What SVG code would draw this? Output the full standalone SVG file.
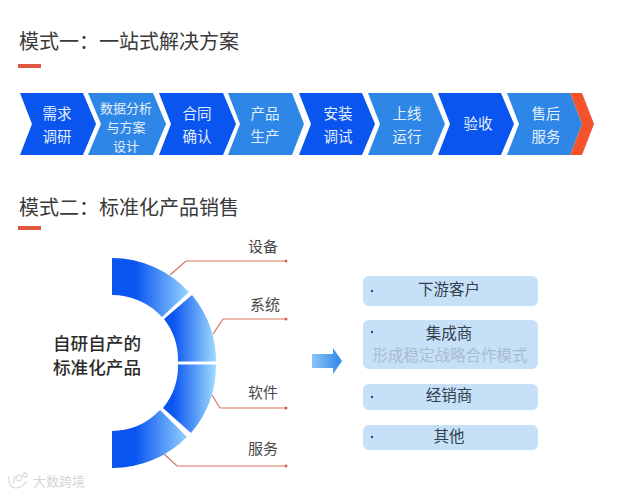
<svg xmlns="http://www.w3.org/2000/svg" width="639" height="495" viewBox="0 0 639 495">
<style>
text{font-family:"Noto Sans CJK SC","Liberation Sans",sans-serif}
.t{font-size:20px;fill:#3a3a3a}
.c{font-size:14.5px;fill:#e4effc;text-anchor:middle}
.s{font-size:13px}
.d{fill:#0a55f0}.l{fill:#2e86e6}
.bar{fill:#e2583e}
.ln{fill:none;stroke:#d9705f;stroke-width:1.2}
.dot{fill:#d9604f}
.lb{font-size:15px;fill:#4a4a4a;text-anchor:middle}
.box{fill:#c6e0f8}
.bt{font-size:15.500px;fill:#33404d;text-anchor:middle}
.bu{fill:#1f4f80}
.ctr{font-size:17.600px;fill:#2b2b2b;text-anchor:middle;font-weight:500}
</style>
<defs>
<linearGradient id="g1" gradientUnits="userSpaceOnUse" x1="112" y1="0" x2="190" y2="0"><stop offset="0.3" stop-color="#0a55f0"/><stop offset="1" stop-color="#98d8ff"/></linearGradient>
<linearGradient id="g2" gradientUnits="userSpaceOnUse" x1="162" y1="0" x2="217" y2="0"><stop offset="0.2" stop-color="#0a55f0"/><stop offset="1" stop-color="#a4deff"/></linearGradient>
<linearGradient id="ga" x1="0" y1="0" x2="1" y2="0"><stop offset="0" stop-color="#8cc4f4"/><stop offset="1" stop-color="#2e86e6"/></linearGradient>
</defs>
<rect width="639" height="495" fill="#fff"/>
<g id="title1"><text class="t" x="19" y="49">模式一&#xFF1A;一站式解决方案</text><rect class="bar" x="18" y="64" width="23" height="4"/></g>
<g id="title2"><text class="t" x="19" y="215">模式二&#xFF1A;标准化产品销售</text><rect class="bar" x="18" y="226" width="23" height="4"/></g>

<g id="step-orange"><path d="M570 93H582L594 124L582 155H570L582 124Z" fill="#f4522c"/></g>
<g id="step1"><path class="d" d="M20 93H83L96 124L83 155H20L32 124Z"/><text class="c" x="57" y="119">需求</text><text class="c" x="57" y="142">调研</text></g>
<g id="step2"><path class="l" d="M88 93H153L166 124L153 155H88L101 124Z"/><text class="c s" x="126" y="113">数据分析</text><text class="c s" x="126" y="132">与方案</text><text class="c s" x="126" y="151">设计</text></g>
<g id="step3"><path class="d" d="M159 93H223L236 124L223 155H159L171 124Z"/><text class="c" x="197" y="119">合同</text><text class="c" x="197" y="142">确认</text></g>
<g id="step4"><path class="l" d="M228 93H292L304 124L292 155H228L240 124Z"/><text class="c" x="265" y="119">产品</text><text class="c" x="265" y="142">生产</text></g>
<g id="step5"><path class="d" d="M299 93H362L375 124L362 155H299L311 124Z"/><text class="c" x="338" y="119">安装</text><text class="c" x="338" y="142">调试</text></g>
<g id="step6"><path class="l" d="M368 93H432L445 124L432 155H368L380 124Z"/><text class="c" x="407" y="119">上线</text><text class="c" x="407" y="142">运行</text></g>
<g id="step7"><path class="d" d="M438 93H501L514 124L501 155H438L450 124Z"/><text class="c" x="478" y="129">验收</text></g>
<g id="step8"><path class="l" d="M507 93H570L582 124L570 155H507L519 124Z"/><text class="c" x="546" y="119">售后</text><text class="c" x="546" y="142">服务</text></g>

<g id="connectors">
<path class="ln" d="M170 275L186 261H286"/><circle class="dot" cx="286" cy="261" r="1.5"/>
<path class="ln" d="M213 334L223 319H286"/><circle class="dot" cx="286" cy="319" r="1.5"/>
<path class="ln" d="M212 395L220 408H286"/><circle class="dot" cx="286" cy="408" r="1.5"/>
<path class="ln" d="M163 453L177 466H286"/><circle class="dot" cx="286" cy="466" r="1.5"/>
</g>

<g id="arc1"><path d="M112 258A105 105 0 0 1 189 292L162 317A68 68 0 0 0 112 295Z" fill="url(#g1)"/></g>
<g id="arc2"><path d="M192 295A105 105 0 0 1 216 361.500L178 361.500A67 67 0 0 0 164 319Z" fill="url(#g2)"/></g>
<g id="arc3"><path d="M216 364.500A105 105 0 0 1 191 433L163 408A67 67 0 0 0 178 364.500Z" fill="url(#g2)"/></g>
<g id="arc4"><path d="M112 468A105 105 0 0 0 187 437L160 410A68 68 0 0 1 112 431Z" fill="url(#g1)"/></g>
<g id="center"><text class="ctr" x="97" y="350">自研自产的</text><text class="ctr" x="97" y="374">标准化产品</text></g>

<g id="label1"><text class="lb" x="263" y="252">设备</text></g>
<g id="label2"><text class="lb" x="265" y="310">系统</text></g>
<g id="label3"><text class="lb" x="263" y="398">软件</text></g>
<g id="label4"><text class="lb" x="263" y="454">服务</text></g>

<g id="arrow"><path d="M312 354H333V348L342 361L333 374V368H312Z" fill="url(#ga)"/></g>

<g id="box1"><rect class="box" x="363" y="276" width="175" height="30" rx="6"/><circle class="bu" cx="372" cy="291" r="1.2"/><text class="bt" x="449" y="295">下游客户</text></g>
<g id="box2"><rect class="box" x="363" y="320" width="175" height="49" rx="6"/><circle class="bu" cx="372" cy="332" r="1.2"/><text class="bt" x="449" y="339">集成商</text><text class="bt" x="450" y="361" style="fill:#a8bccd">形成稳定战略合作模式</text></g>
<g id="box3"><rect class="box" x="363" y="384" width="175" height="26" rx="6"/><circle class="bu" cx="372" cy="397" r="1.2"/><text class="bt" x="449" y="401">经销商</text></g>
<g id="box4"><rect class="box" x="363" y="425" width="175" height="25" rx="6"/><circle class="bu" cx="372" cy="437" r="1.2"/><text class="bt" x="449" y="442">其他</text></g>

<g id="watermark"><path d="M9 476Q8 488 16 488Q24 487 26 481M15 476L13 484M19 475A3 3 0 1 0 19.100 475M25 473A2 2 0 1 0 25.100 473" fill="none" stroke="#dcdcdc" stroke-width="1.300"/><text x="33" y="486" font-size="13" fill="#d6d6d6">大数跨境</text></g>
</svg>
